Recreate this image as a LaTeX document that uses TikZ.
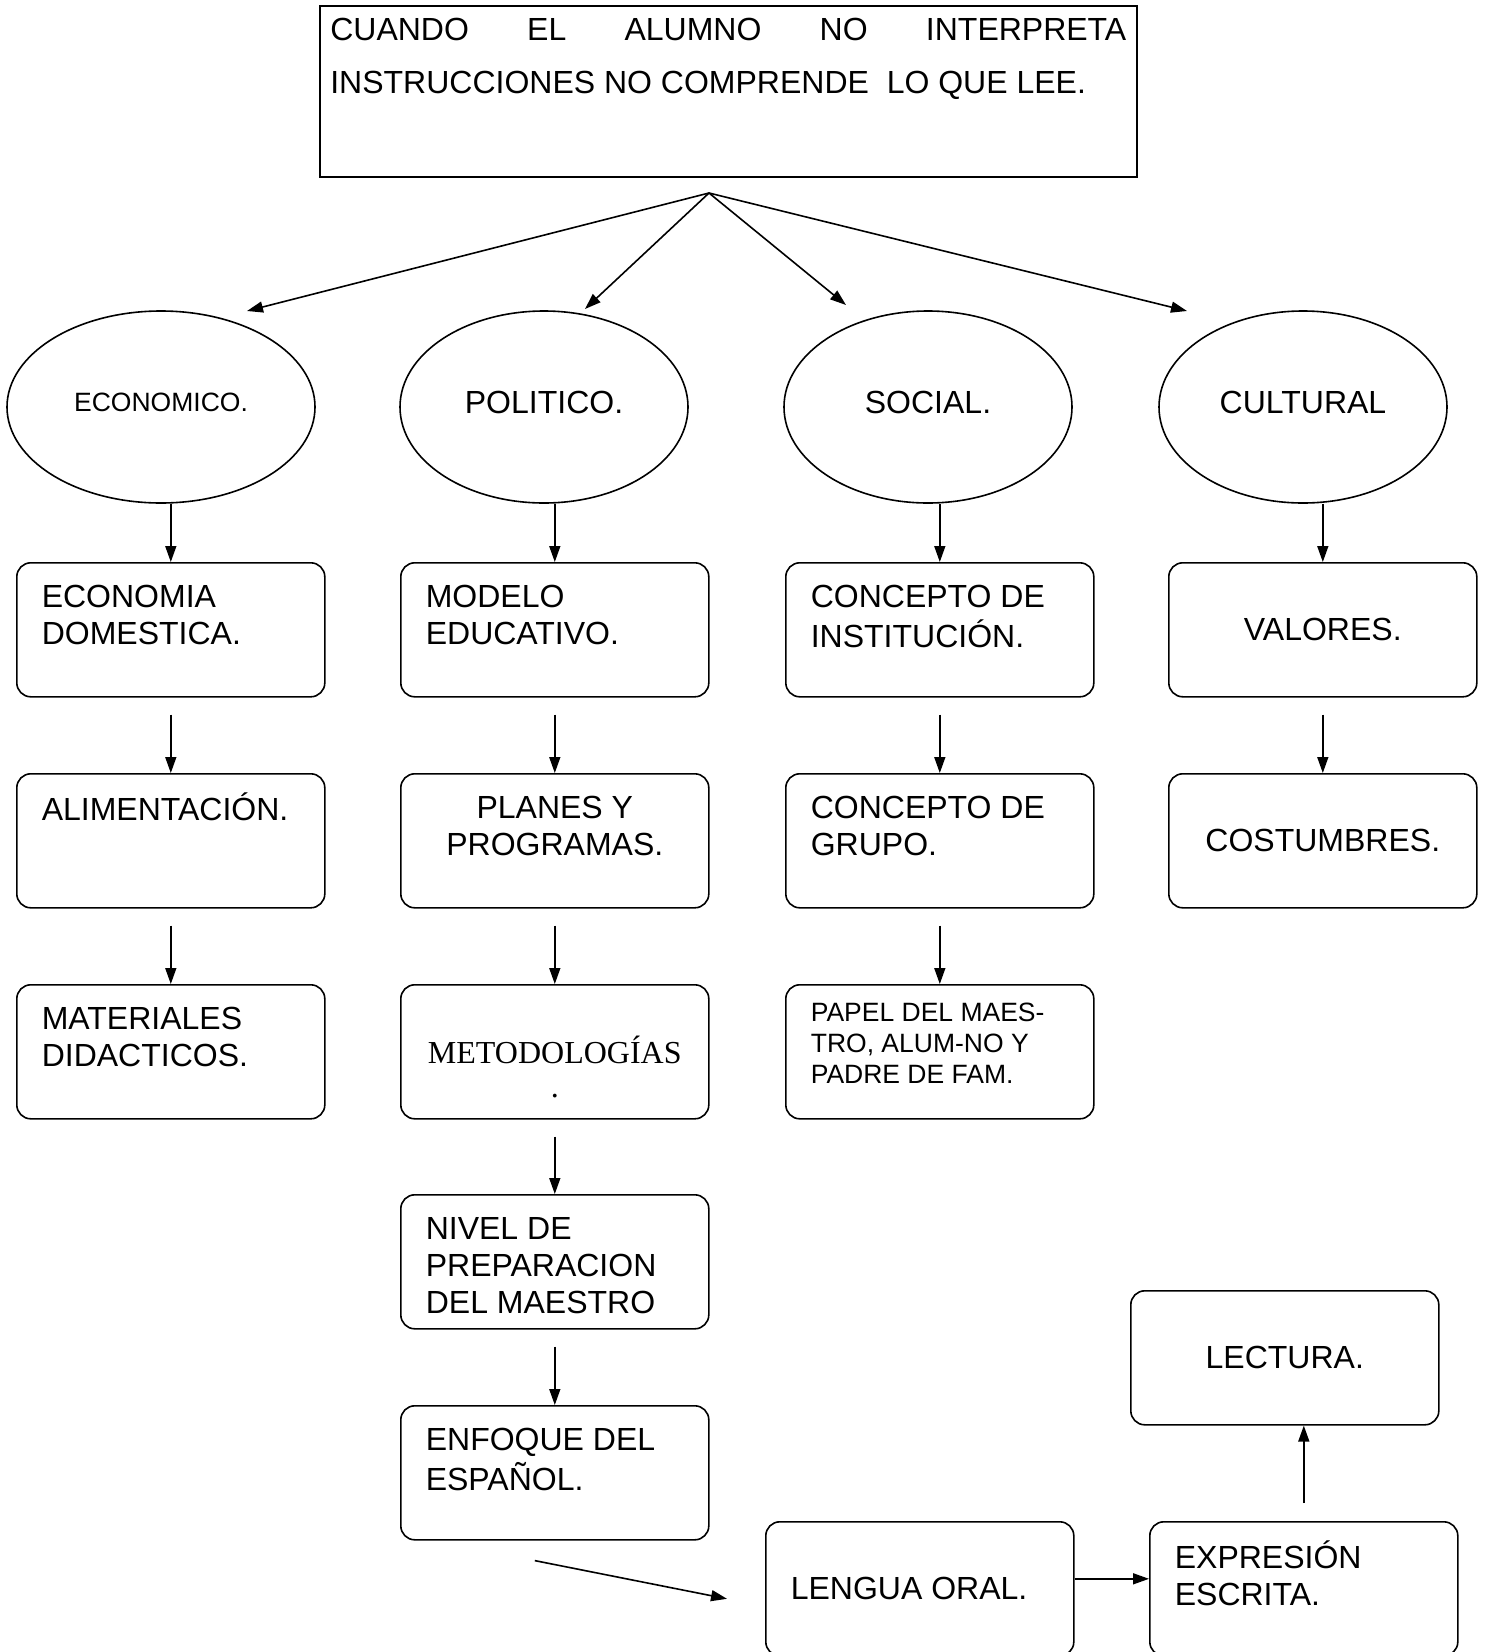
\documentclass[tikz,border=0pt]{standalone}
\usepackage{fontspec}
\setmainfont{Liberation Sans}
\newfontfamily\serifface{Liberation Serif}
\usetikzlibrary{shapes.geometric, arrows.meta, calc}

\newcommand{\toptext}[2][96pt]{\parbox[c][#1][t]{258pt}{\raggedright\strut #2}}

\begin{document}
\begin{tikzpicture}[x=1pt, y=-1pt, line width=1.6pt, >={Triangle[length=16pt,width=11pt]},
    box/.style={draw, rounded corners=14pt, minimum width=308pt, minimum height=134pt, inner sep=0pt, anchor=north west, font=\fontsize{32}{37}\selectfont},
    oval/.style={draw, ellipse, minimum width=288pt, minimum height=192pt, inner sep=0pt, text depth=10pt, font=\fontsize{32}{37}\selectfont}]
    \useasboundingbox (0,0) rectangle (1484,1652);

    % title
    \node[draw, rectangle, anchor=north west, minimum width=817pt, minimum height=171pt, inner sep=0pt, font=\fontsize{32}{53}\selectfont] (title) at (319,5)
      {\parbox[c][147pt][t]{796pt}{\rule{0pt}{23pt}CUANDO\hfill EL\hfill ALUMNO\hfill NO\hfill INTERPRETA\\INSTRUCCIONES NO COMPRENDE\ \ LO QUE LEE.}};

    % ovals
    \node[oval, minimum width=308pt, font=\fontsize{26.5}{30}\selectfont] (eco) at (161,407) {ECONOMICO.};
    \node[oval] (pol) at (544,407) {POLITICO.};
    \node[oval] (soc) at (928,407) {SOCIAL.};
    \node[oval] (cul) at (1303,407) {CULTURAL};

    % boxes
    \node[box] (domestica) at (16,562) {\toptext{ECONOMIA\\DOMESTICA.}};
    \node[box] (alimento) at (16,773) {\toptext{ALIMENTACIÓN.}};
    \node[box] (material) at (16,984) {\toptext{MATERIALES\\DIDACTICOS.}};
    \node[box] (modelo) at (400,562) {\toptext{MODELO\\EDUCATIVO.}};
    \node[box] (planes) at (400,773) {\toptext{\centering PLANES Y\\PROGRAMAS.}};
    \node[box, font=\serifface\fontsize{32}{34}\selectfont] (metodo) at (400,984) {\parbox[c][92pt][b]{258pt}{\centering METODOLOGÍAS\\.}};
    \node[box] (nivel) at (400,1194) {\toptext{NIVEL DE\\PREPARACION\\DEL MAESTRO}};
    \node[box] (enfoque) at (400,1405) {\toptext{ENFOQUE DEL\\ESPAÑOL.}};
    \node[box] (institucion) at (785,562) {\toptext{CONCEPTO DE\\INSTITUCIÓN.}};
    \node[box] (grupo) at (785,773) {\toptext{CONCEPTO DE\\GRUPO.}};
    \node[box, font=\fontsize{26.5}{31}\selectfont] (papel) at (785,984) {\toptext[104pt]{PAPEL DEL MAES-\\TRO, ALUM-NO Y\\PADRE DE FAM.}};
    \node[box] (valores) at (1168,562) {VALORES.};
    \node[box] (costumbres) at (1168,773) {COSTUMBRES.};
    \node[box] (lectura) at (1130,1290) {LECTURA.};
    \node[box] (oral) at (765,1521) {\parbox{258pt}{LENGUA ORAL.}};
    \node[box] (escrita) at (1149,1521) {\toptext{EXPRESIÓN\\ESCRITA.}};

    % arrow ends under the title
    \coordinate (fork) at (709,193);
    \coordinate (ecotip) at (247,311);
    \coordinate (poltip) at (585,309);
    \coordinate (soctip) at (846,305);
    \coordinate (cultip) at (1187,311);

    \path[->]
      (fork) edge (ecotip)
      (fork) edge (poltip)
      (fork) edge (soctip)
      (fork) edge (cultip)
      (eco.south -| domestica.north) edge (domestica.north)
      (pol.south -| modelo.north) edge (modelo.north)
      (soc.south -| institucion.north) edge (institucion.north)
      (cul.south -| valores.north) edge (valores.north)
      ([yshift=-17pt]domestica.south) edge (alimento.north)
      ([yshift=-17pt]alimento.south) edge (material.north)
      ([yshift=-17pt]modelo.south) edge (planes.north)
      ([yshift=-17pt]planes.south) edge (metodo.north)
      ([yshift=-17pt]metodo.south) edge (nivel.north)
      ([yshift=-17pt]nivel.south) edge (enfoque.north)
      ([yshift=-17pt]institucion.south) edge (grupo.north)
      ([yshift=-17pt]grupo.south) edge (papel.north)
      ([yshift=-17pt]valores.south) edge (costumbres.north)
      ([xshift=-20pt,yshift=-20pt]enfoque.south) edge ([xshift=-38pt,yshift=-10pt]oral.west)
      ([yshift=10pt]oral.east) edge ([yshift=10pt]escrita.west)
      ([yshift=18pt]escrita.north) edge (escrita.north |- lectura.south);
\end{tikzpicture}
\end{document}
